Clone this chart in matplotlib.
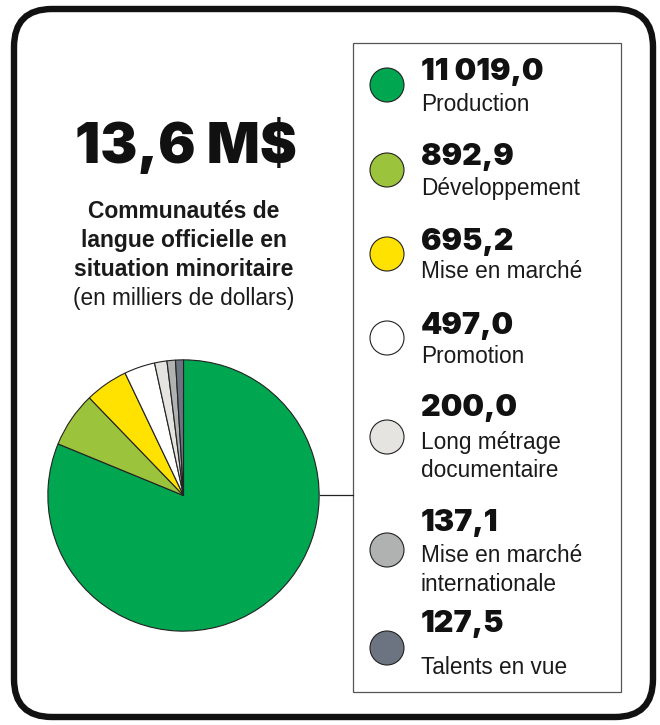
import matplotlib
matplotlib.use("Agg")
import matplotlib.pyplot as plt
from matplotlib import font_manager
from matplotlib.patches import FancyBboxPatch, Rectangle, Circle

# data
categories = ["Production", "Développement", "Mise en marché", "Promotion",
              "Long métrage\ndocumentaire", "Mise en marché\ninternationale", "Talents en vue"]
values = [11019.0, 892.9, 695.2, 497.0, 200.0, 137.1, 127.5]
value_labels = ["11 019,0", "892,9", "695,2", "497,0", "200,0", "137,1", "127,5"]
colors = ["#00a650", "#9cc33c", "#ffe200", "#ffffff", "#e6e4e0", "#b0b2b2", "#6c7482"]
total_label = "13,6 M$"
subtitle = ["Communautés de", "langue officielle en", "situation minoritaire"]
unit_note = "(en milliers de dollars)"


def heaviest_font():
    # pick a black/heavy face if one is installed
    for fam in ["Inter", "Open Sans", "Lato", "Roboto", "Noto Sans"]:
        faces = [f for f in font_manager.fontManager.ttflist
                 if f.name == fam and f.style == "normal" and f.weight >= 800]
        if faces:
            best = max(faces, key=lambda f: f.weight)
            return font_manager.FontProperties(fname=best.fname)
    return font_manager.FontProperties(family="DejaVu Sans", weight="bold")


heavy = heaviest_font()

W, H = 660, 725
fig = plt.figure(figsize=(W / 100, H / 100), dpi=100)

# overlay in pixel coordinates
bg = fig.add_axes([0, 0, 1, 1])
bg.set_xlim(0, W)
bg.set_ylim(H, 0)
bg.axis("off")

frame = FancyBboxPatch((14, 9), 639, 708, boxstyle="round,pad=0,rounding_size=38",
                       fc="white", ec="#111111", lw=4.6)
bg.add_patch(frame)
bg.add_patch(Rectangle((353, 43), 268, 649, fc="white", ec="#555555", lw=0.9))
bg.plot([320, 353], [495, 495], color="#222222", lw=0.9)

big = heavy.copy()
big.set_size(40)
bg.text(186, 145, total_label, ha="center", va="center", fontproperties=big,
        color="#111111")
for j, line in enumerate(subtitle):
    bg.text(184, 211 + 29 * j, line, ha="center", va="center", fontsize=16.5,
            family="Liberation Sans", weight="bold", color="#1a1a1a")
bg.text(184, 298, unit_note, ha="center", va="center", fontsize=16.3,
        family="Liberation Sans", color="#1a1a1a")

# legend entries
circle_y = [85, 170, 254, 338, 437, 550, 648]
num_y = [72, 157, 242, 326, 408, 523, 624]
lab_y = [104, 188, 271, 356, 442, 556, 668]
numf = heavy.copy()
numf.set_size(22)
for i, cat in enumerate(categories):
    bg.add_patch(Circle((387, circle_y[i]), 17, fc=colors[i], ec="#222222", lw=0.8))
    bg.text(421, num_y[i], value_labels[i], ha="left", va="center",
            fontproperties=numf, color="#111111")
    for j, line in enumerate(cat.split("\n")):
        bg.text(421, lab_y[i] + 28.5 * j, line, ha="left", va="center", fontsize=16.3,
                family="Liberation Sans", color="#1a1a1a")

# pie
cx, cy, r = 183.5, 495.5, 137
ax = fig.add_axes([(cx - r) / W, (H - cy - r) / H, 2 * r / W, 2 * r / H])
ax.pie(values, colors=colors, startangle=90, counterclock=False,
       wedgeprops=dict(edgecolor="#222222", linewidth=0.8))
ax.set_xlim(-1.01, 1.01)
ax.set_ylim(-1.01, 1.01)

fig.savefig("out.png", dpi=100)
